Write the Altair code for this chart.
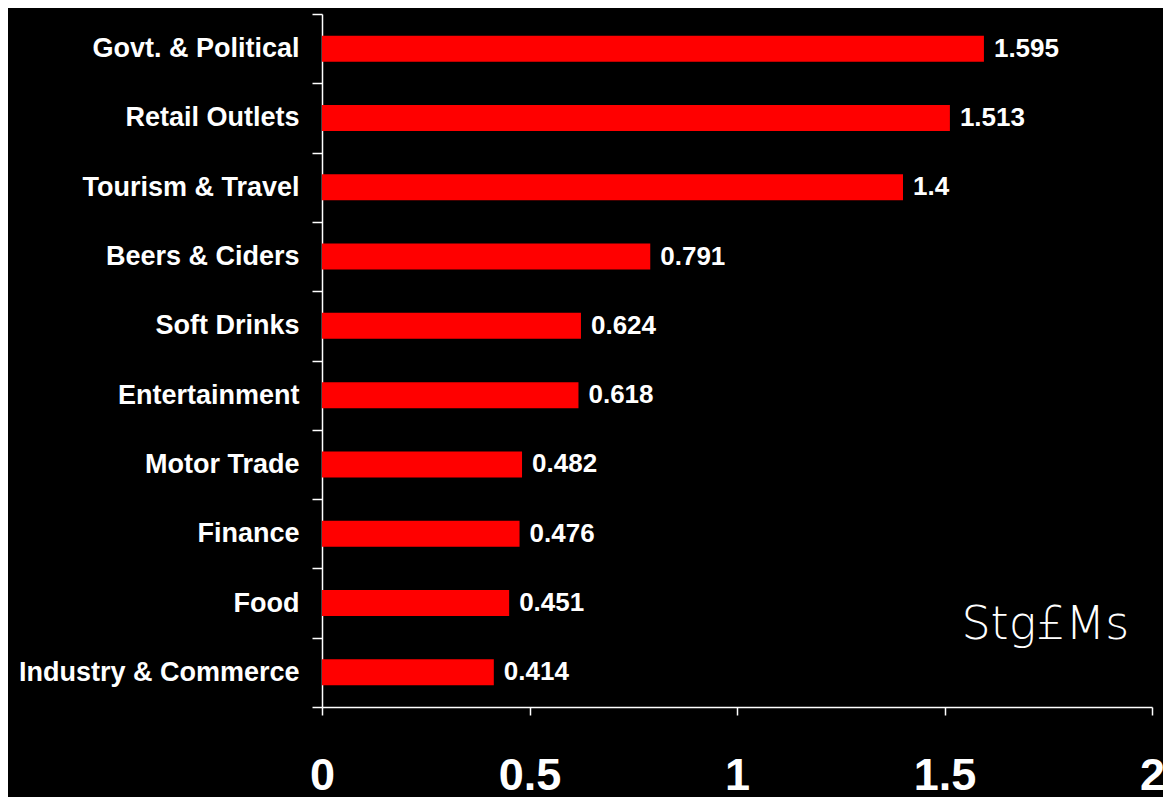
import altair as alt
import pandas as pd

categories = ["Govt. & Political", "Retail Outlets", "Tourism & Travel", "Beers & Ciders",
              "Soft Drinks", "Entertainment", "Motor Trade", "Finance", "Food",
              "Industry & Commerce"]
values = [1.595, 1.513, 1.4, 0.791, 0.624, 0.618, 0.482, 0.476, 0.451, 0.414]
x_ticks = [0, 0.5, 1, 1.5, 2]
unit_label = "Stg£Ms"

W, H = 830, 693

df = pd.DataFrame({"category": categories, "value": values})

y_enc = alt.Y("category:N", sort=categories, title=None,
              scale=alt.Scale(paddingInner=0, paddingOuter=0),
              axis=alt.Axis(tickBand="extent", labelFontSize=27, labelFontWeight="bold",
                            labelFont="Liberation Sans", labelColor="white", labelLimit=0,
                            domainColor="white", tickColor="white", tickSize=10,
                            domainWidth=1.5, tickWidth=1.5, labelPadding=13))
x_enc = alt.X("value:Q", title=None,
              scale=alt.Scale(domain=[0, 2], nice=False),
              axis=alt.Axis(values=x_ticks, format="~g", labelFontSize=45, labelFontWeight="bold",
                            labelFont="Liberation Sans", labelColor="white",
                            domainColor="white", tickColor="white", tickSize=8,
                            domainWidth=1.5, tickWidth=1.5, labelPadding=38,
                            grid=False, labelFlush=False))

bars = alt.Chart(df).mark_bar(color="#FF0000", size=26).encode(x=x_enc, y=y_enc)
labels = alt.Chart(df).mark_text(align="left", baseline="middle", dx=10, color="white",
                                 fontSize=26, fontWeight="bold", font="Liberation Sans").encode(
    x="value:Q", y=alt.Y("category:N", sort=categories), text=alt.Text("value:Q"))

unit = alt.Chart(pd.DataFrame({"t": [unit_label]})).mark_text(
    align="right", baseline="middle", color="white", fontSize=46, fontWeight=200,
    font="DejaVu Sans").encode(x=alt.datum(1.945), y=alt.value(611), text="t:N")

chart = (bars + labels + unit).properties(
    width=W, height=H, background="black",
    autosize=alt.AutoSizeParams(type="none"),
    padding={"left": 314, "top": 6, "right": 11, "bottom": 90}
).configure_view(stroke=None).configure_axis(grid=False)

chart.save("out.html", embed_options={"renderer": "svg", "actions": False})
